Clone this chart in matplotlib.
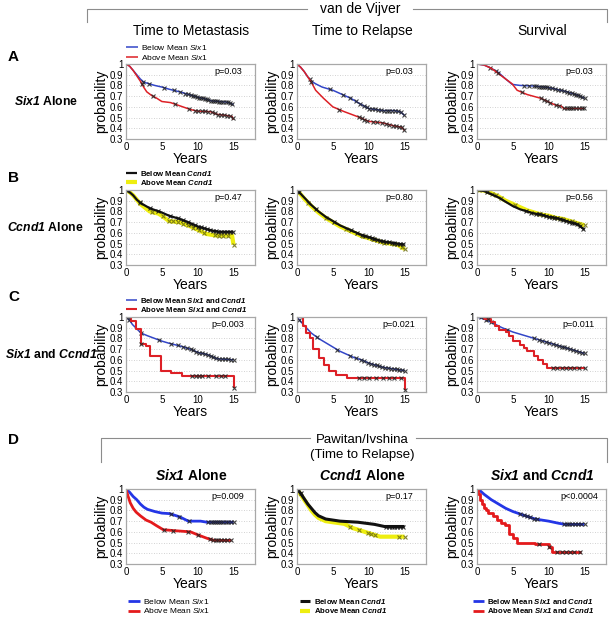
import numpy as np
import matplotlib.pyplot as plt

plt.rcParams['font.family'] = ['Liberation Sans', 'DejaVu Sans']
plt.rcParams['mathtext.fontset'] = 'custom'
plt.rcParams['mathtext.rm'] = 'Liberation Sans'
plt.rcParams['mathtext.it'] = 'Liberation Sans:italic'
plt.rcParams['mathtext.bf'] = 'Liberation Sans:bold'
plt.rcParams['mathtext.bfit'] = 'Liberation Sans:italic:bold'

# --- data ---
X_TICKS = [0, 5, 10, 15]
Y_TICKS = [0.3, 0.4, 0.5, 0.6, 0.7, 0.8, 0.9, 1.0]
Y_TICK_LABELS = ['0.3', '0.4', '0.5', '0.6', '0.7', '0.8', '0.9', '1']

COL_TITLES = ['Time to Metastasis', 'Time to Relapse', 'Survival']
D_TITLES = [r'$\mathbfit{Six1}$ Alone', r'$\mathbfit{Ccnd1}$ Alone',
            r'$\mathbfit{Six1}$ and $\mathbfit{Ccnd1}$']
ROW_LETTERS = ['A', 'B', 'C', 'D']
ROW_NAMES = [r'$\mathbfit{Six1}$ Alone', r'$\mathbfit{Ccnd1}$ Alone',
             r'$\mathbfit{Six1}$ and $\mathbfit{Ccnd1}$']

P_VALUES = ['p=0.03', 'p=0.03', 'p=0.03',
            'p=0.47', 'p=0.80', 'p=0.56',
            'p=0.003', 'p=0.021', 'p=0.011',
            'p=0.009', 'p=0.17', 'p<0.0004']

# row A: van de Vijver, Six1
a1_lo_t = [0, .5, 1, 1.5, 2, 2.5, 3, 4, 5, 6, 7.5, 9, 10, 11, 12, 13, 14, 14.7, 15]
a1_lo_s = [1, .98, .94, .90, .86, .83, .82, .80, .785, .765, .74, .71, .69, .675, .655, .65, .645, .63, .62]
a1_lo_x = [2.4, 3.2, 5.3, 6.7, 7.6, 8.3, 8.7, 9.0, 9.3, 9.6, 9.9, 10.2, 10.4, 10.7, 11.0, 11.3, 11.5,
           11.8, 12.1, 12.4, 12.7, 13.0, 13.3, 13.6, 13.9, 14.2, 14.5, 14.8]
a1_hi_t = [0, .5, 1, 1.5, 2, 2.5, 2.9, 3.5, 4.3, 5, 6.2, 7.5, 9, 10, 11.8, 12.7, 14, 14.8, 15]
a1_hi_s = [1, .98, .94, .89, .84, .78, .74, .71, .68, .65, .64, .61, .575, .56, .555, .53, .52, .51, .48]
a1_hi_x = [2.2, 3.8, 6.8, 8.8, 9.6, 10.1, 10.6, 11.0, 11.5, 12.0, 12.4, 12.9, 13.3, 13.7, 14.1, 14.5, 14.9]

a2_lo_t = [0, .5, 1, 1.5, 2, 2.6, 3.5, 5, 6, 7.5, 9, 10, 11, 12, 13.7, 14.5, 15]
a2_lo_s = [1, .97, .93, .88, .84, .815, .785, .755, .725, .68, .62, .585, .575, .565, .565, .55, .52]
a2_lo_x = [1.8, 4.6, 6.4, 7.4, 8.2, 8.8, 9.3, 9.7, 10.1, 10.5, 10.9, 11.3, 11.7, 12.1, 12.5, 12.9,
           13.3, 13.7, 14.1, 14.5, 14.9]
a2_hi_t = [0, .5, 1, 1.5, 2, 2.6, 3.7, 5, 6.6, 8.4, 10, 12, 13.7, 14.6, 15]
a2_hi_s = [1, .97, .93, .88, .83, .755, .68, .60, .555, .51, .465, .45, .42, .41, .38]
a2_hi_x = [2.0, 5.9, 8.6, 9.0, 9.4, 9.8, 10.6, 11.2, 11.8, 12.4, 12.9, 13.4, 13.8, 14.2, 14.6, 14.9]

a3_lo_t = [0, 1, 2, 3, 4, 4.9, 6, 7.9, 10, 11, 12.6, 14, 15]
a3_lo_s = [1, .99, .96, .92, .86, .81, .80, .795, .78, .765, .74, .71, .68]
a3_lo_x = [1.8, 2.6, 6.5, 7.2, 7.9, 8.3, 8.6, 8.9, 9.2, 9.5, 9.8, 10.1, 10.5, 10.9, 11.3, 11.7, 12.1,
           12.5, 12.9, 13.2, 13.5, 13.8, 14.1, 14.4, 14.7, 15.0]
a3_hi_t = [0, 1, 2, 3, 4, 4.9, 5.6, 7, 8.9, 10, 11, 11.7, 12.1, 15]
a3_hi_s = [1, .99, .96, .91, .86, .815, .755, .715, .68, .645, .615, .61, .585, .585]
a3_hi_x = [2.9, 6.3, 8.9, 9.3, 9.7, 10.2, 11.0, 11.4, 12.2, 12.5, 12.8, 13.1, 13.4, 13.8, 14.2, 14.6, 14.9]

# row B: van de Vijver, Ccnd1
b1_lo_t = [0, .5, 1, 1.5, 2, 3.3, 5, 6, 7.5, 9, 10, 11, 12.1, 13, 15]
b1_lo_s = [1, .98, .95, .91, .88, .83, .79, .76, .73, .69, .66, .64, .62, .61, .61]
b1_lo_x = [1.9, 3.3, 4.5, 6.1, 7.2, 8.0, 8.6, 9.1, 9.6, 10.1, 10.5, 10.9, 11.3, 11.7, 12.1, 12.5,
           12.9, 13.3, 13.7, 14.1, 14.5, 14.9]
b1_hi_t = [0, .5, 1, 1.5, 2, 3.3, 4.5, 5, 6, 7.5, 9, 10, 11.2, 12.6, 14.8, 15]
b1_hi_s = [1, .98, .95, .91, .87, .80, .78, .76, .71, .70, .66, .63, .59, .575, .575, .49]
b1_hi_x = [0.2, 1.9, 3.6, 5.1, 6.0, 6.6, 7.2, 8.0, 8.6, 9.4, 10.2, 10.9, 12.4, 13.0, 13.6, 14.2, 15.0]

b2_lo_t = [0, 1, 2, 3, 4, 5, 6, 7, 8, 9, 10, 11, 12, 13, 14, 15]
b2_lo_s = [1, .93, .86, .80, .75, .71, .67, .64, .61, .58, .56, .54, .52, .51, .50, .49]
b2_lo_x = [0.3, 2.6, 5.2, 7.6, 8.4, 9.0, 9.5, 10.0, 10.4, 10.8, 11.2, 11.6, 12.0, 12.4, 12.8, 13.2,
           13.6, 14.0, 14.4, 14.8]
b2_hi_s = [1, .92, .85, .79, .74, .70, .66, .63, .60, .57, .55, .53, .51, .50, .49, .45]
b2_hi_x = [0.2, 1.6, 4.1, 6.9, 9.2, 10.6, 12.2, 13.5, 14.6, 15.0]

b3_lo_t = [0, 1, 2, 3, 4, 5, 6, 7, 8, 9, 10, 11, 12, 13, 14, 15]
b3_lo_s = [1, .99, .96, .93, .89, .85, .82, .80, .78, .77, .75, .74, .72, .70, .68, .63]
b3_lo_x = [1.4, 6.8, 7.6, 8.2, 8.7, 9.2, 9.6, 10.0, 10.4, 10.8, 11.2, 11.6, 12.0, 12.4, 12.8, 13.2,
           13.6, 14.0, 14.4, 14.8]
b3_hi_s = [1, .995, .97, .94, .90, .87, .84, .81, .79, .77, .76, .74, .73, .71, .69, .67]
b3_hi_x = [0.3, 2.1, 2.6, 3.4, 5.3, 8.8, 11.9, 13.2, 14.2, 15.0]

# row C: van de Vijver, Six1 and Ccnd1
c1_lo_t = [0, .5, .9, 1.5, 2.1, 3, 3.8, 5, 6, 7.5, 9, 10, 11.3, 12.7, 14, 15]
c1_lo_s = [1, .97, .93, .89, .85, .825, .805, .775, .755, .73, .70, .67, .65, .61, .605, .60]
c1_lo_x = [0.4, 2.1, 4.6, 6.3, 7.2, 7.9, 8.5, 9.0, 9.4, 9.8, 10.2, 10.6, 11.0, 11.4, 11.8, 12.2,
           12.6, 13.0, 13.4, 13.8, 14.2, 14.6, 15.0]
c1_hi_t = [0, .7, 1.4, 2.1, 2.8, 3.3, 4.9, 6.3, 7.8, 15]
c1_hi_s = [1, .96, .885, .745, .73, .64, .50, .48, .445, .34]
c1_hi_x = [0.3, 2.1, 9.2, 9.7, 10.2, 10.6, 11.4, 12.6, 13.2, 13.8, 15.0]

c2_lo_t = [0, 1, 2, 3, 4, 5, 6, 7, 8, 9, 10, 11, 12, 13, 14, 15]
c2_lo_s = [1, .92, .85, .80, .76, .72, .68, .65, .62, .60, .57, .55, .53, .52, .51, .50]
c2_lo_x = [0.3, 2.8, 5.6, 7.4, 8.3, 8.9, 9.4, 9.9, 10.3, 10.7, 11.1, 11.5, 11.9, 12.3, 12.7, 13.1,
           13.5, 13.9, 14.3, 14.7, 15.0]
c2_hi_t = [0, .8, 1.2, 1.8, 2.2, 3.0, 3.8, 4.5, 5.5, 7.0, 15]
c2_hi_s = [1, .92, .85, .80, .70, .62, .55, .50, .46, .43, .32]
c2_hi_x = [8.6, 9.3, 10.1, 11.0, 12.0, 12.8, 13.6, 14.5, 15.0]

c3_lo_t = [0, 1, 2, 3.5, 5, 7, 9, 10.5, 12, 13, 14, 15]
c3_lo_s = [1, .98, .95, .90, .86, .82, .78, .75, .72, .70, .68, .66]
c3_lo_x = [1.2, 2.0, 4.2, 7.9, 8.6, 9.1, 9.6, 10.1, 10.6, 11.0, 11.4, 11.8, 12.2, 12.6, 13.0, 13.4,
           13.8, 14.2, 14.6, 15.0]
c3_hi_t = [0, 1, 2, 2.5, 3, 4, 4.5, 5, 6, 6.5, 7, 8, 8.5, 9.2, 9.8, 15]
c3_hi_s = [1, .98, .95, .92, .88, .86, .82, .78, .74, .71, .68, .64, .60, .56, .52, .52]
c3_hi_x = [0.6, 1.5, 10.6, 11.2, 11.9, 12.4, 13.0, 13.6, 14.3, 15.0]

# row D: Pawitan/Ivshina, time to relapse
d1_lo_t = [0, .5, 1, 1.5, 2, 2.5, 3, 4, 5, 6.1, 7.5, 8.7, 10.4, 11.3, 15]
d1_lo_s = [1, .97, .93, .90, .86, .83, .81, .79, .775, .77, .74, .70, .70, .69, .69]
d1_lo_x = [6.3, 7.4, 8.8, 11.4, 11.8, 12.1, 12.4, 12.7, 13.0, 13.3, 13.6, 13.9, 14.2, 14.6, 15.0]
d1_hi_t = [0, .3, .6, 1, 1.4, 2, 2.8, 3.5, 4.2, 5.2, 7, 9, 10.1, 11.3, 12.3, 14.7]
d1_hi_s = [1, .93, .87, .82, .785, .75, .71, .69, .66, .62, .61, .60, .57, .54, .52, .52]
d1_hi_x = [5.3, 6.6, 8.6, 10.0, 11.7, 12.1, 12.5, 12.9, 13.3, 13.7, 14.1, 14.6]

d2_lo_t = [0, .5, 1, 1.5, 2, 2.5, 3, 4, 5, 6, 8.5, 10.8, 12.2, 15]
d2_lo_s = [1, .96, .91, .86, .82, .78, .75, .72, .71, .70, .69, .67, .65, .65]
d2_lo_x = [0.2, 0.5, 12.4, 12.8, 13.2, 13.6, 14.0, 14.4, 14.8]
d2_hi_t = [0, .5, 1, 1.5, 2, 2.5, 3, 4, 5, 6.6, 7.8, 9, 10.4, 11.6, 15]
d2_hi_s = [1, .95, .90, .85, .80, .76, .73, .70, .69, .675, .635, .61, .58, .555, .555]
d2_hi_x = [7.4, 8.6, 9.9, 10.3, 10.9, 14.3, 15.0]

d3_lo_t = [0, .5, 1, 2, 3, 4, 5, 6.3, 8.1, 10, 11.4, 12.3, 15]
d3_lo_s = [1, .98, .95, .90, .86, .82, .79, .76, .72, .70, .68, .67, .67]
d3_lo_x = [6.0, 6.5, 7.0, 7.4, 7.9, 8.4, 12.1, 12.5, 12.9, 13.3, 13.7, 14.1, 14.5, 15.0]
d3_hi_t = [0, .2, .4, .7, 1.0, 1.3, 1.6, 2.2, 2.8, 3.3, 3.9, 4.4, 5.0, 5.6, 8.1, 10, 10.5, 14.5]
d3_hi_s = [1, .95, .90, .86, .82, .80, .78, .75, .71, .68, .66, .58, .54, .50, .485, .455, .41, .41]
d3_hi_x = [8.6, 10.1, 11.2, 11.8, 12.4, 13.0, 13.6, 14.4]

LEG_SIX1 = ['Below Mean $\\mathit{Six1}$', 'Above Mean $\\mathit{Six1}$']
LEG_CCND1 = ['Below Mean $\\mathbfit{Ccnd1}$', 'Above Mean $\\mathbfit{Ccnd1}$']
LEG_BOTH = ['Below Mean $\\mathbfit{Six1}$ and $\\mathbfit{Ccnd1}$',
            'Above Mean $\\mathbfit{Six1}$ and $\\mathbfit{Ccnd1}$']

BLUE, RED, YEL, BLK = '#3346c8', '#dd2026', '#eeee10', '#111111'

# panel table built from the arrays above
sty_blue = dict(color=BLUE, lw=1.1)
sty_red = dict(color=RED, lw=1.1)
sty_red_c = dict(color=RED, lw=1.5)
sty_blk = dict(color=BLK, lw=1.6)
sty_yel = dict(color=YEL, lw=3.0)
sty_blue_d = dict(color='#2436e6', lw=2.0)
sty_red_d = dict(color='#e41a1c', lw=2.0)
sty_blk_d = dict(color=BLK, lw=2.2)

panels = [
    (a1_lo_t, a1_lo_s, a1_lo_x, a1_hi_t, a1_hi_s, a1_hi_x, sty_blue, sty_red, False),
    (a2_lo_t, a2_lo_s, a2_lo_x, a2_hi_t, a2_hi_s, a2_hi_x, sty_blue, sty_red, False),
    (a3_lo_t, a3_lo_s, a3_lo_x, a3_hi_t, a3_hi_s, a3_hi_x, sty_blue, sty_red, False),
    (b1_lo_t, b1_lo_s, b1_lo_x, b1_hi_t, b1_hi_s, b1_hi_x, sty_blk, sty_yel, False),
    (b2_lo_t, b2_lo_s, b2_lo_x, b2_lo_t, b2_hi_s, b2_hi_x, sty_blk, sty_yel, False),
    (b3_lo_t, b3_lo_s, b3_lo_x, b3_lo_t, b3_hi_s, b3_hi_x, sty_blk, sty_yel, False),
    (c1_lo_t, c1_lo_s, c1_lo_x, c1_hi_t, c1_hi_s, c1_hi_x, sty_blue, sty_red_c, True),
    (c2_lo_t, c2_lo_s, c2_lo_x, c2_hi_t, c2_hi_s, c2_hi_x, sty_blue, sty_red_c, True),
    (c3_lo_t, c3_lo_s, c3_lo_x, c3_hi_t, c3_hi_s, c3_hi_x, sty_blue, sty_red_c, True),
    (d1_lo_t, d1_lo_s, d1_lo_x, d1_hi_t, d1_hi_s, d1_hi_x, sty_blue_d, sty_red_d, False),
    (d2_lo_t, d2_lo_s, d2_lo_x, d2_hi_t, d2_hi_s, d2_hi_x, sty_blk_d, sty_yel, False),
    (d3_lo_t, d3_lo_s, d3_lo_x, d3_hi_t, d3_hi_s, d3_hi_x, sty_blue_d, sty_red_d, True),
]

# --- layout (pixels) ---
W, H = 614, 618
COL_LEFT = [126, 297, 477]
ROW_TOP = [64, 190, 317, 489]
AX_W, AX_H = 129, 75

fig = plt.figure(figsize=(W / 100, H / 100), dpi=100)
bg = fig.add_axes([0, 0, 1, 1])
bg.set_xlim(0, W)
bg.set_ylim(H, 0)
bg.axis('off')


def surv_at(t, s, x, steps):
    t = np.asarray(t)
    s = np.asarray(s)
    x = np.asarray(x)
    if steps:
        idx = np.searchsorted(t, x, side='right') - 1
        return s[np.clip(idx, 0, len(s) - 1)]
    return np.interp(x, t, s)


def draw_curve(ax, t, s, x, style, steps, mcolor):
    ds = 'steps-post' if steps else 'default'
    line, = ax.plot(t, s, drawstyle=ds, solid_capstyle='butt', **style)
    ax.plot(x, surv_at(t, s, x, steps), ls='none', marker='x', ms=3.4, mew=0.8,
            color=mcolor, alpha=0.85)
    return line


axes = []
for i, p in enumerate(panels):
    r, c = divmod(i, 3)
    ax = fig.add_axes([COL_LEFT[c] / W, 1 - (ROW_TOP[r] + AX_H) / H, AX_W / W, AX_H / H])
    lo_t, lo_s, lo_x, hi_t, hi_s, hi_x, lo_sty, hi_sty, hi_steps = p
    if hi_sty is sty_yel:
        h_hi = draw_curve(ax, hi_t, hi_s, hi_x, hi_sty, hi_steps, '#6e6e10')
        h_lo = draw_curve(ax, lo_t, lo_s, lo_x, lo_sty, False, BLK)
    else:
        h_lo = draw_curve(ax, lo_t, lo_s, lo_x, lo_sty, False, '#222222')
        h_hi = draw_curve(ax, hi_t, hi_s, hi_x, hi_sty, hi_steps, '#222222')
    ax.set_xlim(0, 18)
    ax.set_ylim(0.3, 1.0)
    ax.set_xticks(X_TICKS)
    ax.set_yticks(Y_TICKS)
    ax.set_yticklabels(Y_TICK_LABELS)
    ax.tick_params(length=0, labelsize=7, pad=2)
    ax.yaxis.grid(True, linestyle=(0, (1, 2)), color='#c4c4c4', lw=0.6)
    ax.set_axisbelow(True)
    for sp in ax.spines.values():
        sp.set_color('#a8a8a8')
        sp.set_linewidth(0.9)
    ax.set_ylabel('probability', fontsize=10, labelpad=1)
    ax.set_xlabel('Years', fontsize=10, labelpad=0)
    ax.text(0.79, 0.895, P_VALUES[i], transform=ax.transAxes, fontsize=6.5,
            ha='center', va='center')
    axes.append((ax, h_lo, h_hi))

# legends
leg_kw = dict(frameon=False, handlelength=1.4, handletextpad=0.4,
              labelspacing=0.05, borderpad=0, borderaxespad=0)
legend_specs = [
    (0, LEG_SIX1, 'normal', 6.0, 'lower left', (0.0, 1.03)),
    (3, LEG_CCND1, 'bold', 5.6, 'lower left', (0.0, 1.04)),
    (6, LEG_BOTH, 'bold', 5.6, 'lower left', (0.0, 1.04)),
    (9, LEG_SIX1, 'normal', 6.0, 'upper left', (0.015, -0.44)),
    (10, LEG_CCND1, 'bold', 5.6, 'upper left', (0.02, -0.44)),
    (11, LEG_BOTH, 'bold', 5.6, 'upper left', (-0.03, -0.44)),
]
for j, labels, weight, size, loc, anchor in legend_specs:
    ax, h_lo, h_hi = axes[j]
    ax.legend([h_lo, h_hi], labels, loc=loc, bbox_to_anchor=anchor,
              prop={'weight': weight, 'size': size}, **leg_kw)

# headers, brackets, row labels
br = dict(color='#8c8c8c', lw=0.8)
bg.plot([87, 87, 307], [22, 9, 9], **br)
bg.plot([413, 607, 607], [9, 9, 22], **br)
bg.text(360, 9, 'van de Vijver', fontsize=10, ha='center', va='center')
for c, title in enumerate(COL_TITLES):
    bg.text(COL_LEFT[c] + AX_W / 2 + 1, 31, title, fontsize=10, ha='center', va='center')

bg.plot([101, 101, 310], [462, 438, 438], **br)
bg.plot([416, 607, 607], [438, 438, 462], **br)
bg.text(362, 440, 'Pawitan/Ivshina', fontsize=9.5, ha='center', va='center')
bg.text(362, 455, '(Time to Relapse)', fontsize=9.5, ha='center', va='center')
for c, title in enumerate(D_TITLES):
    bg.text(COL_LEFT[c] + AX_W / 2 + 1, 475, title, fontsize=10, ha='center', va='center',
            fontweight='bold')

for letter, y in zip(ROW_LETTERS, [57, 178, 297, 440]):
    bg.text(8, y, letter, fontsize=11, fontweight='bold', ha='left', va='center')
for name, r, cx in zip(ROW_NAMES, range(3), [46, 45, 51]):
    bg.text(cx, ROW_TOP[r] + AX_H / 2, name, fontsize=8.8, fontweight='bold',
            ha='center', va='center')

fig.savefig('out.png', dpi=100)
